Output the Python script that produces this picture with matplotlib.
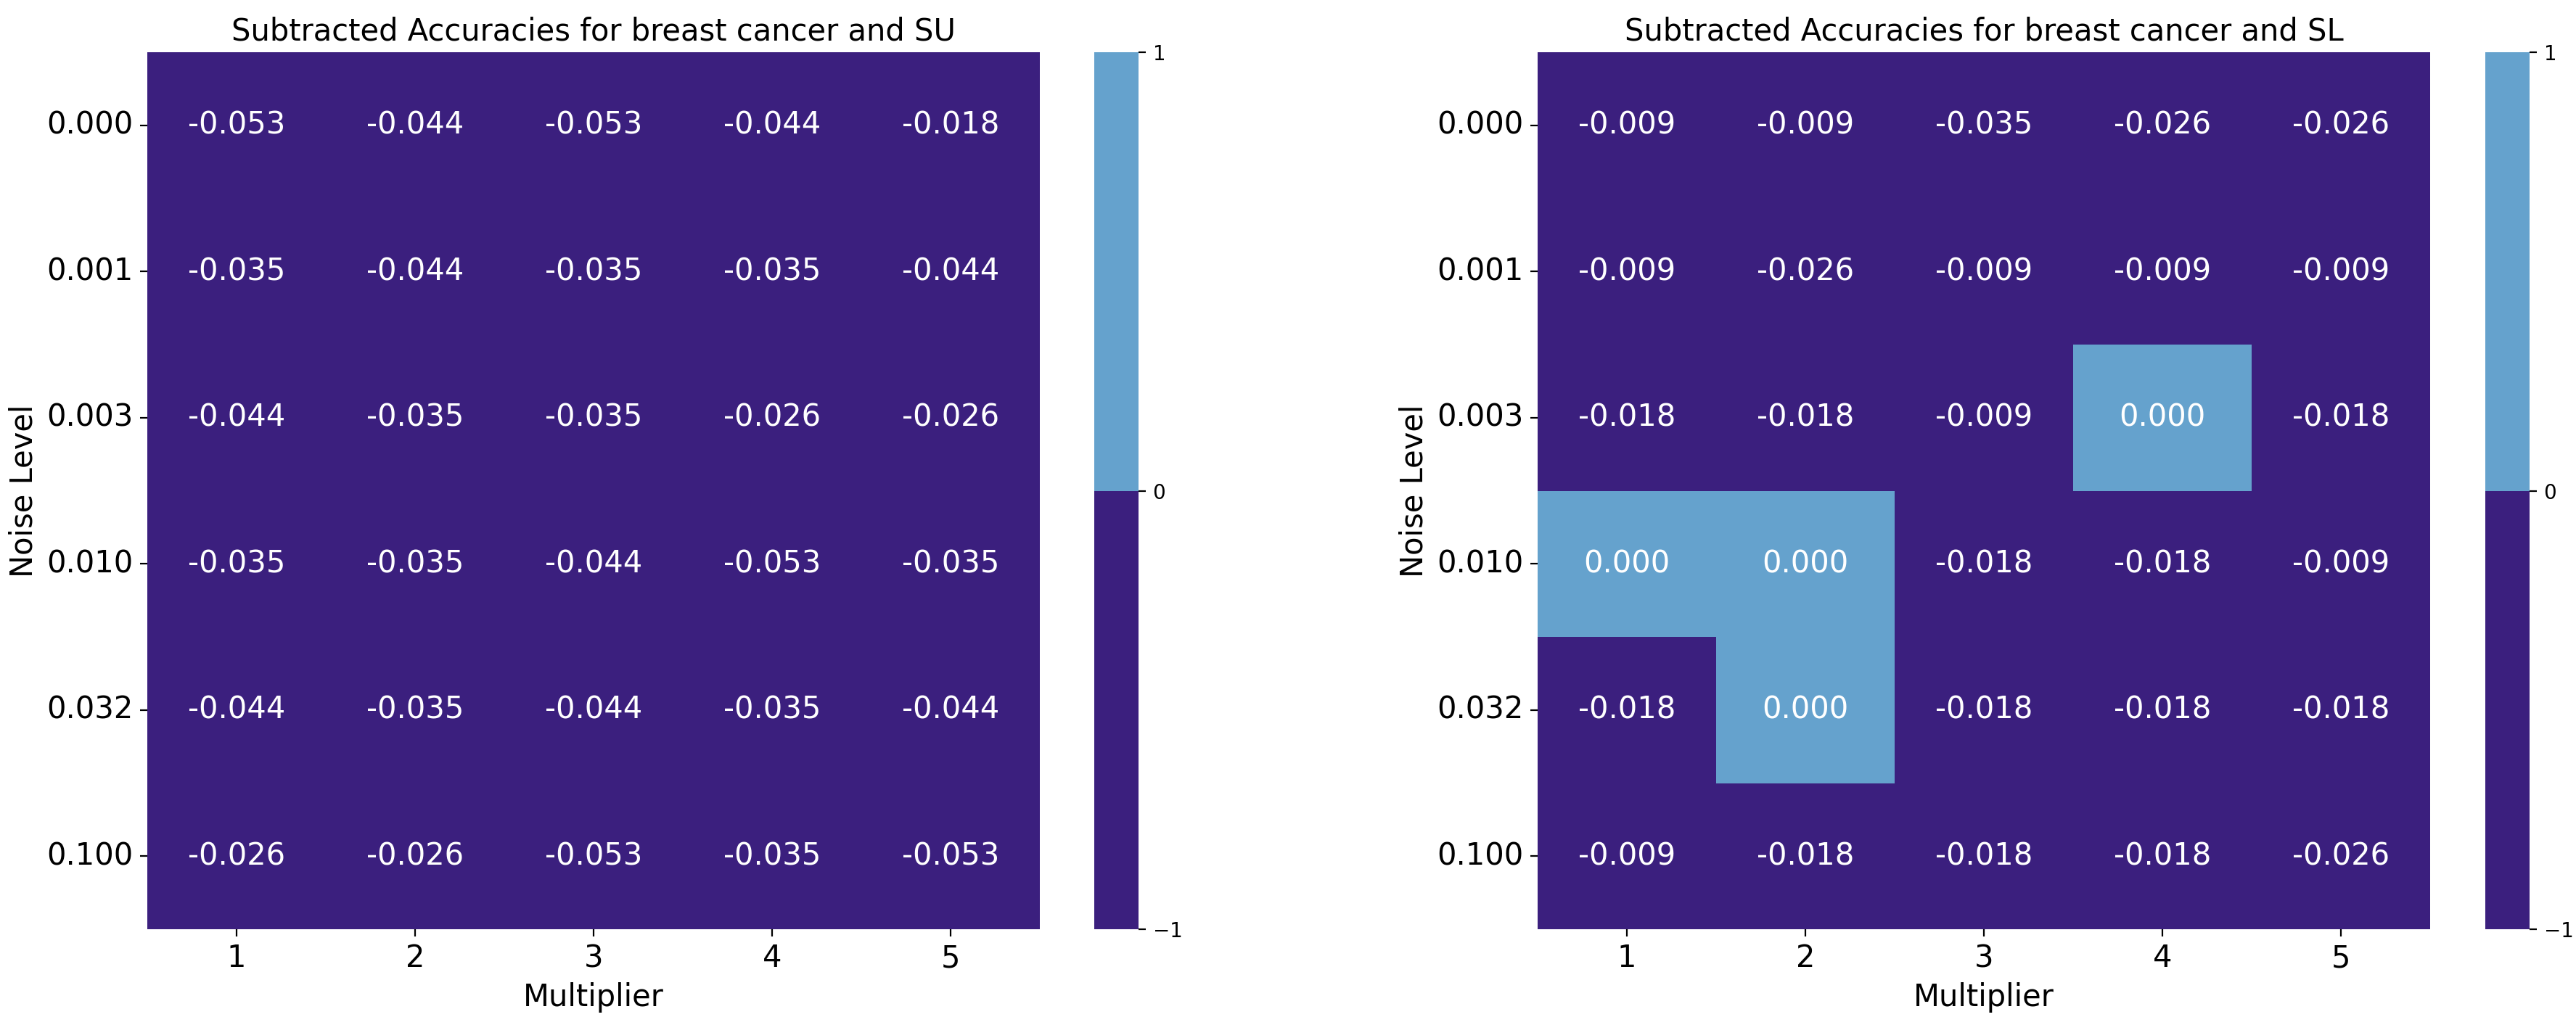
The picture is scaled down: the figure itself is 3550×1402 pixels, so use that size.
import numpy as np
import pandas as pd
import matplotlib
matplotlib.use('Agg')
import matplotlib.pyplot as plt
import seaborn as sns
from matplotlib.colors import ListedColormap

# noise levels (rows) and multipliers (columns)
noise_levels = ['0.000', '0.001', '0.003', '0.010', '0.032', '0.100']
multipliers = [1, 2, 3, 4, 5]

# subtracted accuracies, SU
su_values = [
    [-0.053, -0.044, -0.053, -0.044, -0.018],
    [-0.035, -0.044, -0.035, -0.035, -0.044],
    [-0.044, -0.035, -0.035, -0.026, -0.026],
    [-0.035, -0.035, -0.044, -0.053, -0.035],
    [-0.044, -0.035, -0.044, -0.035, -0.044],
    [-0.026, -0.026, -0.053, -0.035, -0.053],
]

# subtracted accuracies, SL
sl_values = [
    [-0.009, -0.009, -0.035, -0.026, -0.026],
    [-0.009, -0.026, -0.009, -0.009, -0.009],
    [-0.018, -0.018, -0.009, 0.000, -0.018],
    [0.000, 0.000, -0.018, -0.018, -0.009],
    [-0.018, 0.000, -0.018, -0.018, -0.018],
    [-0.009, -0.018, -0.018, -0.018, -0.026],
]

titles = ['Subtracted Accuracies for breast cancer and SU',
          'Subtracted Accuracies for breast cancer and SL']

cmap = ListedColormap(['#3b1f7e', '#65a2cd'])

fig = plt.figure(figsize=(17.75, 7.01), dpi=200)

bottom, height = 0.0863, 0.8623
ax_pos = [0.0572, 0.5969]
cb_pos = [0.4248, 0.9648]

for i, (vals, title) in enumerate(zip([su_values, sl_values], titles)):
    ax = fig.add_axes([ax_pos[i], bottom, 0.3465, height])
    cax = fig.add_axes([cb_pos[i], bottom, 0.0172, height])
    df = pd.DataFrame(np.array(vals), index=noise_levels, columns=multipliers)
    sns.heatmap(df, ax=ax, cbar_ax=cax, cmap=cmap, vmin=-1, vmax=1,
                annot=True, fmt='.3f',
                annot_kws={'size': 15, 'color': 'white'},
                cbar_kws={'ticks': [-1, 0, 1]})
    ax.set_title(title, fontsize=15)
    ax.set_xlabel('Multiplier', fontsize=15)
    ax.set_ylabel('Noise Level', fontsize=15)
    ax.tick_params(axis='both', labelsize=15)
    ax.set_yticklabels(noise_levels, rotation=0)
    cax.tick_params(labelsize=10)

fig.savefig('out.png', dpi=200)
